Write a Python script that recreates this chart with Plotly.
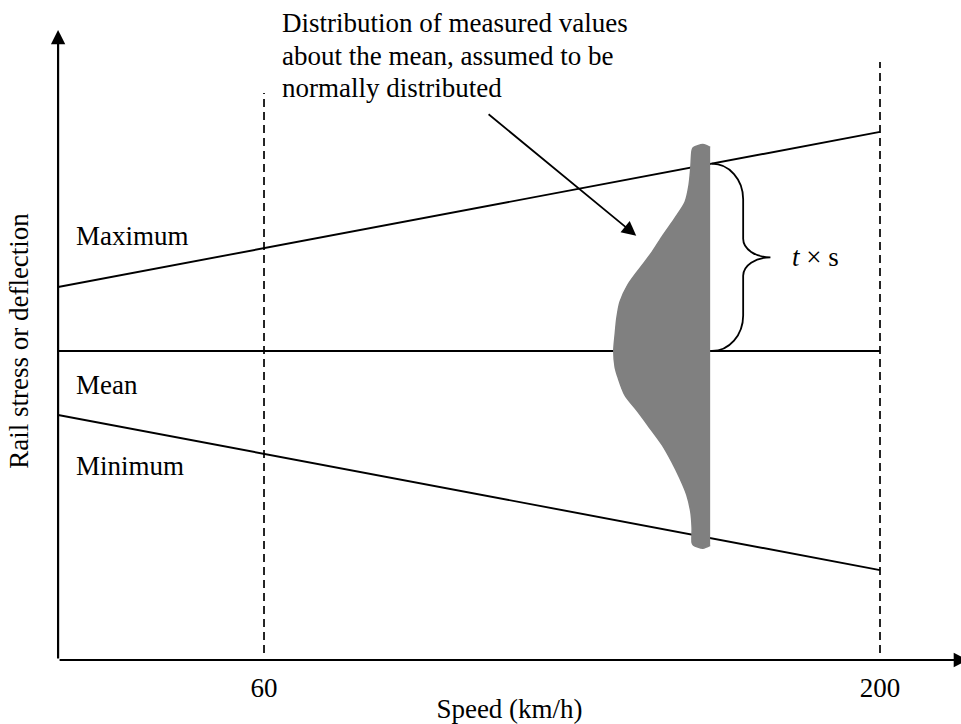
import plotly.graph_objects as go

# ---- data -----------------------------------------------------------------
# speed axis (km/h)
SPEED_ORIGIN = 13.2          # speed at the vertical axis
SPEED_END = 200              # lines stop at the 200 km/h guide
GUIDE_SPEEDS = [60, 200]     # dashed reference speeds
GUIDE_TOPS = [183.5, 193.5]  # upper end of each dashed guide
TICK_TEXT = ["60", "200"]

# rail stress / deflection (arbitrary units)
MEAN_LEVEL = 100.0
MAX_LEVELS = [120.7, 170.9]  # maximum at SPEED_ORIGIN and SPEED_END
MIN_LEVELS = [79.3, 29.1]    # minimum at SPEED_ORIGIN and SPEED_END

# spread of measured values about the mean, drawn at one speed
DIST_RIGHT_SPEED = 161.4
DIST_LEVELS = [165.0, 159.2, 153.7, 148.2, 143.0, 137.5, 132.0, 126.9, 121.4,
               115.9, 110.7, 105.2, 100.0, 94.8, 91.3, 85.8, 80.3, 75.1, 69.6,
               64.1, 58.9, 53.4, 47.9, 42.7, 37.9]
DIST_LEFT_SPEEDS = [157.3, 157.0, 156.6, 155.7, 153.4, 150.7, 148.2, 145.5,
                    142.7, 140.9, 140.2, 139.8, 139.5, 139.8, 140.5, 142.0,
                    145.0, 147.7, 150.5, 152.7, 154.5, 156.1, 157.0, 157.3,
                    157.3]
DIST_TOP = 166.8
DIST_BOTTOM = 36.2

X_RANGE = [13.18, 218.41]
Y_RANGE = [0, 206.47]

FONT = "Liberation Serif"
FS = 27
INK = "black"
GREY = "#808080"
LW = 1.9

fig = go.Figure()

# dashed speed guides
for sp, top in zip(GUIDE_SPEEDS, GUIDE_TOPS):
    fig.add_trace(go.Scatter(x=[sp, sp], y=[2.3, top], mode="lines",
                             line=dict(color=INK, width=1.7, dash="8px,5px"),
                             hoverinfo="skip", showlegend=False))

# maximum, mean and minimum lines
for levels in (MAX_LEVELS, [MEAN_LEVEL, MEAN_LEVEL], MIN_LEVELS):
    fig.add_trace(go.Scatter(x=[SPEED_ORIGIN, SPEED_END], y=levels,
                             mode="lines", line=dict(color=INK, width=LW),
                             hoverinfo="skip", showlegend=False))

# distribution silhouette (smoothed left edge closed by a straight right edge)
r = DIST_RIGHT_SPEED
cap_l = DIST_LEFT_SPEEDS[0]
cap_b = DIST_LEFT_SPEEDS[-1]
poly_x = ([r, (r + cap_l) / 2 + 0.4, cap_l + 0.3] + DIST_LEFT_SPEEDS +
          [cap_b + 0.3, (r + cap_b) / 2 + 0.4, r])
poly_y = ([DIST_TOP - 0.9, DIST_TOP, DIST_TOP - 1.0] + DIST_LEVELS +
          [DIST_BOTTOM + 1.0, DIST_BOTTOM, DIST_BOTTOM + 0.9])
fig.add_trace(go.Scatter(x=poly_x, y=poly_y, mode="lines", fill="toself",
                         fillcolor=GREY,
                         line=dict(color=GREY, width=1.5, shape="spline",
                                   smoothing=0.8),
                         hoverinfo="skip", showlegend=False))

# brace spanning mean -> maximum at the distribution's speed
def level_at(levels, sp):
    f = (sp - SPEED_ORIGIN) / (SPEED_END - SPEED_ORIGIN)
    return levels[0] + (levels[1] - levels[0]) * f

bx0 = r + 0.4
top = level_at(MAX_LEVELS, bx0)
bot = MEAN_LEVEL
mid = (top + bot) / 2
bxv = bx0 + 7.1
btip = bx0 + 13.3
r1, r2 = 11.5, 6.0
k = 0.5523
a1 = bxv - bx0
a2 = btip - bxv
brace = (
    f"M{bx0},{top} "
    f"C{bx0 + k * a1},{top} {bxv},{top - r1 + k * r1} {bxv},{top - r1} "
    f"L{bxv},{mid + r2} "
    f"C{bxv},{mid + r2 - k * r2} {btip - k * a2},{mid} {btip},{mid} "
    f"C{btip - k * a2},{mid} {bxv},{mid - r2 + k * r2} {bxv},{mid - r2} "
    f"L{bxv},{bot + r1} "
    f"C{bxv},{bot + r1 - k * r1} {bx0 + k * a1},{bot} {bx0},{bot}"
)
fig.add_shape(type="path", path=brace, xref="x", yref="y",
              line=dict(color=INK, width=1.8))

ann = []
# axis arrows
ann.append(dict(x=SPEED_ORIGIN, y=203.9, ax=SPEED_ORIGIN, ay=0,
                xref="x", yref="y", axref="x", ayref="y", text="",
                showarrow=True, arrowhead=2, arrowsize=1.3, arrowwidth=2.2,
                arrowcolor=INK))
ann.append(dict(x=220.0, y=0, ax=SPEED_ORIGIN, ay=0,
                xref="x", yref="y", axref="x", ayref="y", text="",
                showarrow=True, arrowhead=2, arrowsize=1.3, arrowwidth=2.2,
                arrowcolor=INK))
# pointer to the distribution
ann.append(dict(x=144.6, y=137.3, ax=110.7, ay=177.0,
                xref="x", yref="y", axref="x", ayref="y", text="",
                showarrow=True, arrowhead=2, arrowsize=1.6, arrowwidth=1.8,
                arrowcolor=INK, standoff=0, startstandoff=0))

txt = dict(xref="x", yref="y", showarrow=False, xanchor="left",
           yanchor="middle", font=dict(family=FONT, size=FS, color=INK))
ann.append(dict(txt, x=16.8, y=137.2, text="Maximum"))
ann.append(dict(txt, x=16.8, y=89.0, text="Mean"))
ann.append(dict(txt, x=16.8, y=62.8, text="Minimum"))
ann.append(dict(txt, x=179.6, y=mid, text="<i>t</i> × s"))
for yy, line in zip([206.1, 195.5, 185.1],
                    ["Distribution of measured values",
                     "about the mean, assumed to be",
                     "normally distributed"]):
    ann.append(dict(txt, x=63.6, y=yy, text=line))

fig.update_layout(
    width=961, height=724,
    margin=dict(l=58, r=0, t=22, b=64, pad=0),
    paper_bgcolor="white", plot_bgcolor="white",
    font=dict(family=FONT, size=FS, color=INK),
    annotations=ann,
    xaxis=dict(range=X_RANGE, showgrid=False, zeroline=False, showline=False,
               tickvals=GUIDE_SPEEDS, ticktext=TICK_TEXT, ticks="",
               ticklabelstandoff=9,
               tickfont=dict(family=FONT, size=FS, color=INK),
               title=dict(text="Speed (km/h)", standoff=6,
                          font=dict(family=FONT, size=FS, color=INK)),
               automargin=False, fixedrange=True),
    yaxis=dict(range=Y_RANGE, showgrid=False, zeroline=False, showline=False,
               showticklabels=False, ticks="",
               title=dict(text="Rail stress or deflection", standoff=20,
                          font=dict(family=FONT, size=FS, color=INK)),
               automargin=False, fixedrange=True),
)

fig.write_html("out.html")
